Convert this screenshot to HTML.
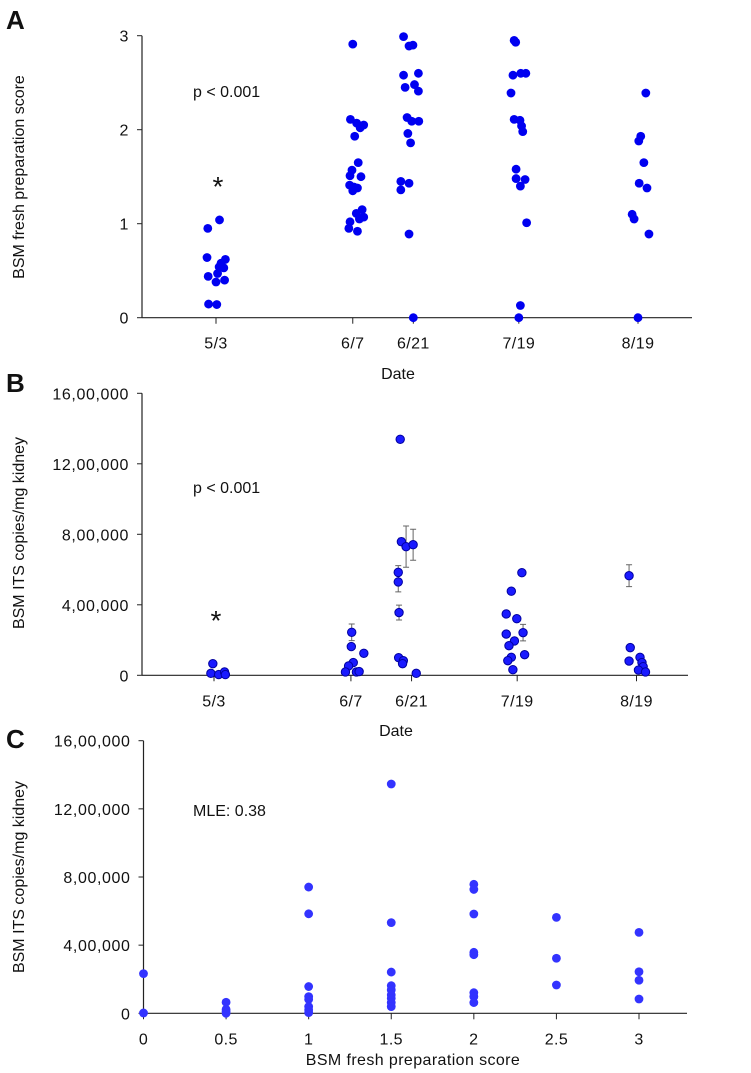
<!DOCTYPE html>
<html><head><meta charset="utf-8"><style>
body{margin:0;background:#fff;}
svg{display:block;font-family:"Liberation Sans",Arial,sans-serif;}
</style></head><body>
<svg id="fig" width="751" height="1073" viewBox="0 0 751 1073"></svg>
<script>
// ---------- data ----------
const dateLabels = ["5/3","6/7","6/21","7/19","8/19"];
const dateDays = [123,158,173.5,200.5,231];
// panel A: [group index, jitter (days), score]
const scoreA = [
[0,-2.1,0.95],[0,0.9,1.04],[0,-2.3,0.64],[0,2.4,0.62],[0,1.3,0.58],[0,0.8,0.54],[0,2.0,0.53],[0,-2.0,0.44],[0,0.4,0.47],[0,0,0.38],[0,2.2,0.40],[0,-1.9,0.145],[0,0.2,0.14],
[1,0,2.91],[1,-0.6,2.11],[1,1.0,2.07],[1,2.8,2.05],[1,1.9,2.02],[1,0.5,1.93],[1,1.4,1.65],[1,-0.2,1.57],[1,-0.7,1.51],[1,2.1,1.50],[1,-0.8,1.41],[1,0.3,1.39],[1,1.2,1.38],[1,0,1.35],[1,2.4,1.15],[1,0.9,1.11],[1,2.8,1.07],[1,1.7,1.05],[1,-0.7,1.02],[1,-1.0,0.95],[1,1.2,0.92],
[2,-2.5,2.99],[2,-1.1,2.89],[2,-0.1,2.90],[2,-2.5,2.58],[2,1.3,2.60],[2,0.3,2.48],[2,-2.1,2.45],[2,1.3,2.41],[2,-1.6,2.13],[2,-0.4,2.09],[2,1.4,2.09],[2,-1.4,1.96],[2,-0.7,1.86],[2,-3.2,1.45],[2,-1.1,1.43],[2,-3.2,1.36],[2,-1.1,0.89],[2,0,0],
[3,-1.2,2.95],[3,-0.8,2.93],[3,-1.5,2.58],[3,0.5,2.60],[3,1.8,2.60],[3,-2.0,2.39],[3,-1.2,2.11],[3,0.3,2.10],[3,0.7,2.04],[3,1.0,1.98],[3,-0.7,1.58],[3,-0.7,1.48],[3,1.6,1.47],[3,0.4,1.40],[3,2.0,1.01],[3,0.4,0.13],[3,0,0],
[4,2.0,2.39],[4,0.7,1.93],[4,0.2,1.88],[4,1.5,1.65],[4,0.3,1.43],[4,2.3,1.38],[4,-1.5,1.10],[4,-1.0,1.05],[4,2.8,0.89],[4,0,0]
];
// panel B: [group, jitter(days), copies (thousands), error (thousands)]
const copiesB = [
[0,-0.3,66,0],[0,-0.8,11,0],[0,1.2,4,0],[0,2.7,19,0],[0,2.9,4,0],
[1,0.2,244,47],[1,0.1,163,0],[1,3.3,125,0],[1,0.6,72,0],[1,-0.6,53,0],[1,-1.4,19,0],[1,1.4,19,0],[1,2.1,21,0],
[2,-2.9,1339,0],[2,-2.6,758,20],[2,-1.4,730,117],[2,0.4,741,88],[2,-3.4,584,38],[2,-3.4,530,57],[2,-3.2,356,42],[2,-3.3,100,0],[2,-2.1,83,0],[2,-2.3,66,0],[2,1.2,11,0],
[3,1.2,582,0],[3,-1.5,477,0],[3,-2.8,348,0],[3,-0.1,321,0],[3,-2.8,234,0],[3,1.5,242,47],[3,-0.7,195,0],[3,-2.1,168,0],[3,1.9,117,0],[3,-1.5,102,0],[3,-2.4,83,0],[3,-1.1,32,0],
[4,-1.9,565,62],[4,-1.6,157,0],[4,0.9,102,0],[4,-1.9,81,0],[4,1.4,72,0],[4,1.7,49,0],[4,0.5,30,0],[4,2.3,19,0]
];
// panel C: [score, copies (thousands)]
const scoreC = [
[0,233],[0,2],
[0.5,65],[0.5,23],[0.5,10],[0.5,0],
[1,741],[1,584],[1,157],[1,98],[1,82],[1,39],[1,20],[1,4],
[1.5,1346],[1.5,532],[1.5,242],[1.5,162],[1.5,137],[1.5,108],[1.5,88],[1.5,63],[1.5,39],
[2,757],[2,727],[2,583],[2,358],[2,344],[2,121],[2,98],[2,63],
[2.5,563],[2.5,323],[2.5,166],
[3,475],[3,244],[3,194],[3,84]
];
const ticksA = [0,1,2,3];
const ticksCopies = [0,400000,800000,1200000,1600000];
const tickCopyLabels = ["0","4,00,000","8,00,000","12,00,000","16,00,000"];
const ticksScoreX = [0,0.5,1,1.5,2,2.5,3];

// ---------- helpers ----------
const NS="http://www.w3.org/2000/svg";
const svg=document.getElementById('fig');
function mk(tag,attrs,parent,txt){const e=document.createElementNS(NS,tag);for(const k in attrs)e.setAttribute(k,attrs[k]);if(txt!==undefined)e.textContent=txt;(parent||svg).appendChild(e);return e;}
function lin(d0,d1,r0,r1){return v=>r0+(v-d0)/(d1-d0)*(r1-r0);}
const FS=16;
function axes(g,L,R,Y0,Ytop){
  const a=mk('line',{x1:L,y1:Y0,x2:R,y2:Y0,stroke:'#222','stroke-width':1.2},g);
  
  const b=mk('line',{x1:L,y1:Y0,x2:L,y2:Ytop,stroke:'#222','stroke-width':1.2},g);
  
}
function ytick(g,L,y,label){
  const t=mk('line',{x1:L-5,y1:y,x2:L,y2:y,stroke:'#222'},g);
  
  const l=mk('text',{x:L-13,y:y+6,'text-anchor':'end','font-size':FS,'letter-spacing':0.6,fill:'#111'},g,label);
  
}
function xtick(g,x,Y0,label){
  const t=mk('line',{x1:x,y1:Y0,x2:x,y2:Y0+6,stroke:'#222'},g);
  
  const l=mk('text',{x:x,y:Y0+31,'text-anchor':'middle','font-size':FS,'letter-spacing':0.4,fill:'#111'},g,label);
  
}
function text(g,x,y,s,size,name,extra){
  const t=mk('text',Object.assign({x:x,y:y,'font-size':size,fill:'#111'},extra||{}),g,s);
  return t;
}
function ytitle(g,cx,cy,s){
  const t=mk('text',{x:0,y:0,'text-anchor':'middle','font-size':FS,fill:'#111',transform:`translate(${cx},${cy}) rotate(-90)`},g,s);
  
}

// ---------- Panel A ----------
{
  const g=mk('g',{});
  const L=142,R=692,Y0=317.7,Ytop=35.7;
  const x=lin(123,231,216,638), y=lin(0,3,Y0,Ytop);
  text(g,6,29,'A',26,'panel-a-label',{'font-weight':'bold'});
  axes(g,L,R,Y0,Ytop);
  ticksA.forEach(v=>ytick(g,L,y(v),String(v)));
  dateDays.forEach((d,i)=>xtick(g,x(d),Y0,dateLabels[i]));
  text(g,398,379,'Date',FS,'x-axis-title',{'text-anchor':'middle'});
  ytitle(g,24,177,'BSM fresh preparation score');
  text(g,193,97,'p < 0.001',FS,'p-value-annotation');
  text(g,218,196,'*',28,'significance-asterisk',{'text-anchor':'middle'});
  scoreA.forEach(p=>{
    const c=mk('circle',{cx:x(dateDays[p[0]]+p[1]),cy:y(p[2]),r:4.4,fill:'#0000f0'},g);
    
  });
}
// ---------- Panel B ----------
{
  const g=mk('g',{});
  const L=142,R=688,Y0=675.3,Ytop=393.3;
  const x=lin(123,231,214,636.5), y=lin(0,1600000,Y0,Ytop);
  text(g,6,392,'B',26,'panel-b-label',{'font-weight':'bold'});
  axes(g,L,R,Y0,Ytop);
  ticksCopies.forEach((v,i)=>ytick(g,L,y(v),tickCopyLabels[i]));
  dateDays.forEach((d,i)=>xtick(g,x(d),Y0,dateLabels[i]));
  text(g,396,736,'Date',FS,'x-axis-title',{'text-anchor':'middle'});
  ytitle(g,24,533,'BSM ITS copies/mg kidney');
  text(g,193,493,'p < 0.001',FS,'p-value-annotation');
  text(g,216,630,'*',28,'significance-asterisk',{'text-anchor':'middle'});
  copiesB.forEach(p=>{
    const cx=x(dateDays[p[0]]+p[1]);
    if(p[3]>0){
      const e=mk('path',{d:`M${cx},${y((p[2]-p[3])*1000)}V${y((p[2]+p[3])*1000)}M${cx-3},${y((p[2]-p[3])*1000)}h6M${cx-3},${y((p[2]+p[3])*1000)}h6`,stroke:'#666',fill:'none','stroke-width':1},g);
      
    }
  });
  copiesB.forEach(p=>{
    const c=mk('circle',{cx:x(dateDays[p[0]]+p[1]),cy:y(p[2]*1000),r:4.2,fill:'#1a1aff',stroke:'#0000a0','stroke-width':1},g);
    
  });
}
// ---------- Panel C ----------
{
  const g=mk('g',{});
  const L=143.5,R=687,Y0=1013.3,Ytop=740.7;
  const x=lin(0,3,143.5,639), y=lin(0,1600000,Y0,Ytop);
  text(g,6,748,'C',26,'panel-c-label',{'font-weight':'bold'});
  axes(g,L,R,Y0,Ytop);
  ticksCopies.forEach((v,i)=>ytick(g,L,y(v),tickCopyLabels[i]));
  ticksScoreX.forEach(v=>xtick(g,x(v),Y0,String(v)));
  text(g,413,1065,'BSM fresh preparation score',FS,'x-axis-title',{'text-anchor':'middle','letter-spacing':0.4});
  ytitle(g,24,877,'BSM ITS copies/mg kidney');
  text(g,193,816,'MLE: 0.38',FS,'mle-annotation');
  scoreC.forEach(p=>{
    const c=mk('circle',{cx:x(p[0]),cy:y(p[1]*1000),r:4.4,fill:'#3333ff'},g);
    
  });
}
</script>
</body></html>
